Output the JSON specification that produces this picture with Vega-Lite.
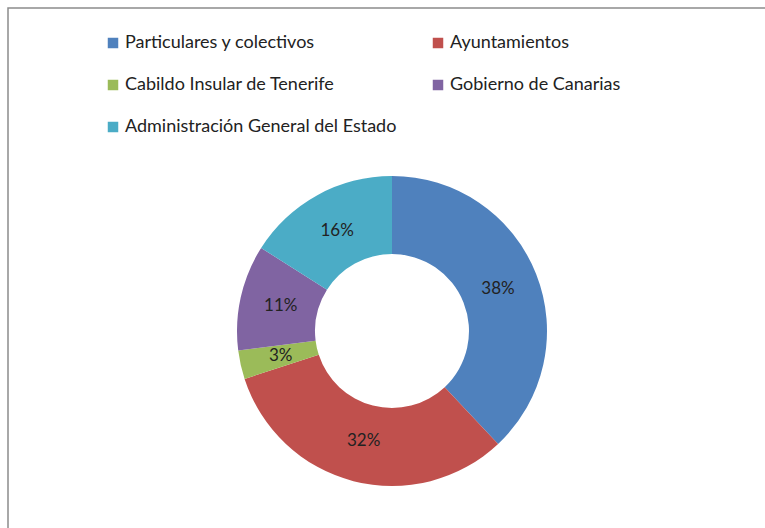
{
  "$schema": "https://vega.github.io/schema/vega-lite/v6.json",
  "width": 768,
  "height": 646,
  "padding": {"left": 8, "top": 8, "right": 0, "bottom": 0},
  "autosize": {"type": "none"},
  "background": "white",
  "view": {"stroke": "#8c8c8c", "strokeWidth": 1.5},
  "data": {
    "values": [
      {"categoria": "Particulares y colectivos", "pct": 0.38, "orden": 1},
      {"categoria": "Ayuntamientos", "pct": 0.32, "orden": 2},
      {"categoria": "Cabildo Insular de Tenerife", "pct": 0.03, "orden": 3},
      {"categoria": "Gobierno de Canarias", "pct": 0.11, "orden": 4},
      {"categoria": "Administración General del Estado", "pct": 0.16, "orden": 5}
    ]
  },
  "encoding": {
    "theta": {"field": "pct", "type": "quantitative", "stack": true},
    "order": {"field": "orden", "type": "quantitative"}
  },
  "layer": [
    {
      "mark": {"type": "arc", "innerRadius": 77, "outerRadius": 155},
      "encoding": {
        "color": {
          "field": "categoria",
          "type": "nominal",
          "sort": ["Particulares y colectivos", "Ayuntamientos", "Cabildo Insular de Tenerife", "Gobierno de Canarias", "Administración General del Estado"],
          "scale": {
            "domain": ["Particulares y colectivos", "Ayuntamientos", "Cabildo Insular de Tenerife", "Gobierno de Canarias", "Administración General del Estado"],
            "range": ["#4F81BD", "#C0504D", "#9BBB59", "#8064A2", "#4BACC6"]
          },
          "legend": {
            "title": null,
            "orient": "none",
            "legendX": 96,
            "legendY": 26,
            "direction": "horizontal",
            "columns": 2,
            "symbolType": "square",
            "symbolSize": 110,
            "symbolStrokeWidth": 0,
            "labelFont": "Lato",
            "labelFontSize": 18,
            "labelColor": "#222222",
            "labelOffset": 3,
            "labelLimit": 400,
            "rowPadding": 24,
            "columnPadding": 32
          }
        }
      }
    },
    {
      "mark": {"type": "text", "radius": 114, "font": "Lato", "fontSize": 17, "color": "#222222"},
      "encoding": {
        "text": {"field": "pct", "type": "quantitative", "format": ".0%"},
        "detail": {"field": "categoria"}
      }
    }
  ]
}
